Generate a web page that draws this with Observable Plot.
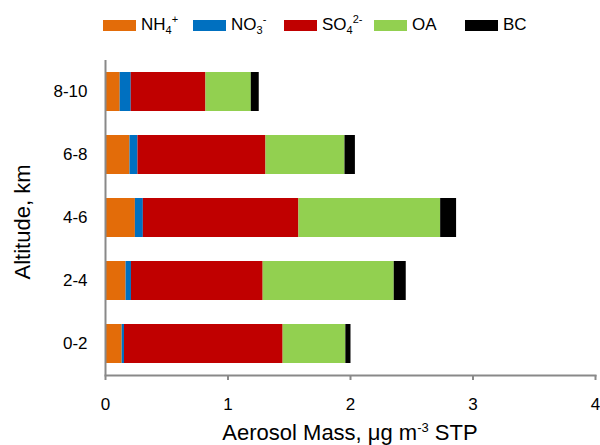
<!DOCTYPE html>
<html>
<head>
<meta charset="utf-8">
<script src="https://cdn.jsdelivr.net/npm/d3@7"></script>
<script src="https://cdn.jsdelivr.net/npm/@observablehq/plot@0.6"></script>
<style>
  html, body { margin: 0; padding: 0; background: white; }
  #wrap { position: relative; width: 600px; height: 445px; overflow: hidden; font-family: "Liberation Sans", Arial, sans-serif; color: #000; }
  #legend { position: absolute; left: 0; top: 0; width: 600px; height: 45px; }
  .item { position: absolute; top: 14px; height: 22px; display: flex; align-items: center; font-size: 17px; white-space: nowrap; }
  .sw { width: 33px; height: 11px; margin-right: 5px; }
  .item sub, .item sup { font-size: 11px; line-height: 0; }
  #chart { position: absolute; left: 0; top: 45px; }
  #xtitle { position: absolute; left: 105px; width: 490px; top: 420px; text-align: center; font-size: 22px; white-space: nowrap; }
  #xtitle sup { font-size: 13px; line-height: 0; }
  #ytitle { position: absolute; left: 23px; top: 222px; transform: translate(-50%, -50%) rotate(-90deg); font-size: 22px; white-space: nowrap; line-height: 1; }
</style>
</head>
<body>
<div id="wrap">
  <div id="legend"></div>
  <div id="chart"></div>
  <div id="xtitle">Aerosol Mass, μg m<sup>-3</sup> STP</div>
  <div id="ytitle"></div>
</div>
<script>
// ---- data ----
const altitudes = ["0-2", "2-4", "4-6", "6-8", "8-10"];
const species = ["NH4+", "NO3-", "SO42-", "OA", "BC"];
const speciesLabels = ["NH<sub>4</sub><sup>+</sup>", "NO<sub>3</sub><sup>-</sup>", "SO<sub>4</sub><sup>2-</sup>", "OA", "BC"];
const colors = ["#E36C09", "#0070C0", "#C00000", "#92D050", "#000000"];
const nh4 = [0.136, 0.168, 0.244, 0.200, 0.120];
const no3 = [0.019, 0.044, 0.065, 0.065, 0.090];
const so4 = [1.295, 1.075, 1.270, 1.045, 0.610];
const oa  = [0.512, 1.070, 1.157, 0.645, 0.370];
const bc  = [0.042, 0.098, 0.130, 0.085, 0.065];
const xTicks = [0, 1, 2, 3, 4];
const yTitle = "Altitude, km";

const series = [nh4, no3, so4, oa, bc];
const rows = [];
altitudes.forEach((a, i) => {
  species.forEach((s, j) => rows.push({alt: a, species: s, value: series[j][i]}));
});

// ---- legend ----
const legendX = [103, 193, 284, 374, 465];
const legend = document.getElementById("legend");
species.forEach((s, j) => {
  const it = document.createElement("div");
  it.className = "item";
  it.style.left = legendX[j] + "px";
  it.innerHTML = `<span class="sw" style="background:${colors[j]}"></span><span>${speciesLabels[j]}</span>`;
  legend.appendChild(it);
});
document.getElementById("ytitle").textContent = yTitle;

// ---- chart ----
const axisGray = "#898989";
const chart = Plot.plot({
  width: 600,
  height: 400,
  marginTop: 15,
  marginBottom: 70,
  marginLeft: 105,
  marginRight: 5,
  style: {fontFamily: "'Liberation Sans', Arial, sans-serif", fontSize: "17px", color: "#000", background: "white"},
  x: {domain: [0, 4]},
  y: {domain: altitudes.slice().reverse(), paddingInner: 0.38, paddingOuter: 0.19},
  color: {domain: species, range: colors},
  marks: [
    Plot.barX(rows, Plot.stackX({x: "value", y: "alt", fill: "species"})),
    Plot.ruleX([0], {stroke: axisGray, strokeWidth: 2}),
    Plot.frame({anchor: "bottom", stroke: axisGray, strokeWidth: 2}),
    Plot.axisX({ticks: xTicks, tickFormat: d => String(d), tickSize: 5, tickPadding: 17, stroke: axisGray, strokeWidth: 2, label: null, fontSize: 17}),
    Plot.axisY({tickSize: 0, tickPadding: 18, label: null, fontSize: 17})
  ]
});
document.getElementById("chart").appendChild(chart);
</script>
</body>
</html>
